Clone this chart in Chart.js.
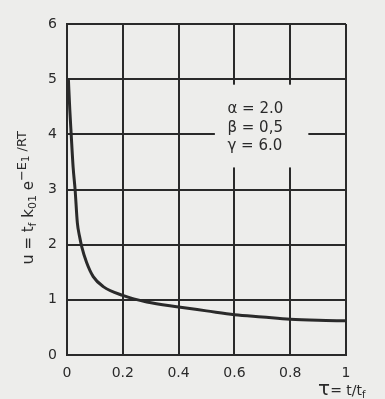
<!DOCTYPE html>
<html>
<head>
<meta charset="utf-8">
<script src="https://cdn.jsdelivr.net/npm/chart.js@4"></script>
<style>
  html, body { margin: 0; padding: 0; background: #ededeb; }
  #wrap { width: 385px; height: 399px; }
</style>
</head>
<body>
<div id="wrap"><canvas id="c" width="385" height="399"></canvas></div>
<script>
// ---- data ----
const tau = [0.005, 0.01, 0.015, 0.022, 0.029, 0.037, 0.045, 0.053, 0.07, 0.094, 0.13, 0.2, 0.286, 0.4, 0.5, 0.6, 0.7, 0.8, 0.9, 1.0];
const uVals = [5.0, 4.45, 4.0, 3.4, 3.0, 2.4, 2.15, 1.96, 1.68, 1.42, 1.24, 1.08, 0.96, 0.87, 0.80, 0.73, 0.69, 0.65, 0.63, 0.62];
const xTickValues = [0, 0.2, 0.4, 0.6, 0.8, 1];
const xTickLabels = ['0', '0.2', '0.4', '0.6', '0.8', '1'];
const yTickValues = [0, 1, 2, 3, 4, 5, 6];
const yTickLabels = ['0', '1', '2', '3', '4', '5', '6'];
const params = ['\u03B1 = 2.0', '\u03B2 = 0,5', '\u03B3 = 6.0'];

const INK = '#2a2a2a';
const BG = '#ededeb';
const FONT = '"DejaVu Sans", sans-serif';

function drawRuns(ctx, runs, x, y) {
  let cx = x;
  for (const [t, size, dy] of runs) {
    ctx.font = size + 'px ' + FONT;
    ctx.fillText(t, cx, y + dy);
    cx += ctx.measureText(t).width;
  }
  return cx - x;
}
function runsWidth(ctx, runs) {
  let w = 0;
  for (const [t, size] of runs) { ctx.font = size + 'px ' + FONT; w += ctx.measureText(t).width; }
  return w;
}

const annot = {
  id: 'annot',
  beforeDatasetsDraw(chart) {
    const ctx = chart.ctx, xs = chart.scales.x, ys = chart.scales.y;
    const x0 = xs.getPixelForValue(0.53), x1 = xs.getPixelForValue(0.865);
    const y0 = ys.getPixelForValue(4.9), y1 = ys.getPixelForValue(3.4);
    ctx.save();
    ctx.fillStyle = BG;
    ctx.fillRect(x0, y0, x1 - x0, y1 - y0);
    ctx.fillStyle = INK;
    ctx.font = '15px ' + FONT;
    ctx.textBaseline = 'middle';
    const px = xs.getPixelForValue(0.575);
    const lineVals = [4.45, 4.12, 3.79];
    params.forEach((p, i) => ctx.fillText(p, px, ys.getPixelForValue(lineVals[i])));
    ctx.restore();
  },
  afterDraw(chart) {
    const ctx = chart.ctx, xs = chart.scales.x, ys = chart.scales.y;
    ctx.save();
    ctx.fillStyle = INK;
    ctx.textBaseline = 'alphabetic';
    // y axis title, rotated
    const yRuns = [
      ['u', 16, 0], [' = t', 15, 0], ['f', 11, 3], [' k', 15, 0], ['01', 11, 3],
      [' e', 15, 0], ['\u2212E', 13, -7], ['1', 10, -4], [' /RT', 13, -7]
    ];
    const w = runsWidth(ctx, yRuns);
    const cy = ys.getPixelForValue(2.85);
    ctx.translate(33, cy + w / 2);
    ctx.rotate(-Math.PI / 2);
    drawRuns(ctx, yRuns, 0, 0);
    ctx.setTransform(1, 0, 0, 1, 0, 0);
    // x axis title
    const xRuns = [['\u03C4', 20, 0], ['= t/t', 14, 0], ['f', 10, 3]];
    drawRuns(ctx, xRuns, xs.getPixelForValue(0.9), 395);
    ctx.restore();
  }
};

new Chart(document.getElementById('c'), {
  type: 'line',
  data: {
    datasets: [{
      data: tau.map((t, i) => ({ x: t, y: uVals[i] })),
      borderColor: INK,
      borderWidth: 3,
      pointRadius: 0,
      cubicInterpolationMode: 'monotone',
      fill: false
    }]
  },
  options: {
    responsive: false,
    animation: false,
    layout: { padding: { left: 0, right: 39, top: 24, bottom: 0 } },
    plugins: { legend: { display: false }, tooltip: { enabled: false } },
    scales: {
      x: {
        type: 'linear', min: 0, max: 1,
        afterBuildTicks(s) { s.ticks = xTickValues.map(v => ({ value: v })); },
        afterFit(s) { s.height = 44; },
        ticks: {
          callback: (v, i) => xTickLabels[i],
          color: INK, font: { family: FONT, size: 14 }, padding: 10, maxRotation: 0
        },
        grid: { color: INK, lineWidth: 2, drawTicks: false },
        border: { color: INK, width: 2 }
      },
      y: {
        type: 'linear', min: 0, max: 6,
        afterBuildTicks(s) { s.ticks = yTickValues.map(v => ({ value: v })); },
        afterFit(s) { s.width = 67; },
        ticks: {
          callback: (v, i) => yTickLabels[i],
          color: INK, font: { family: FONT, size: 14 }, padding: 10
        },
        grid: { color: INK, lineWidth: 2, drawTicks: false },
        border: { color: INK, width: 2 }
      }
    }
  },
  plugins: [annot]
});
</script>
</body>
</html>
